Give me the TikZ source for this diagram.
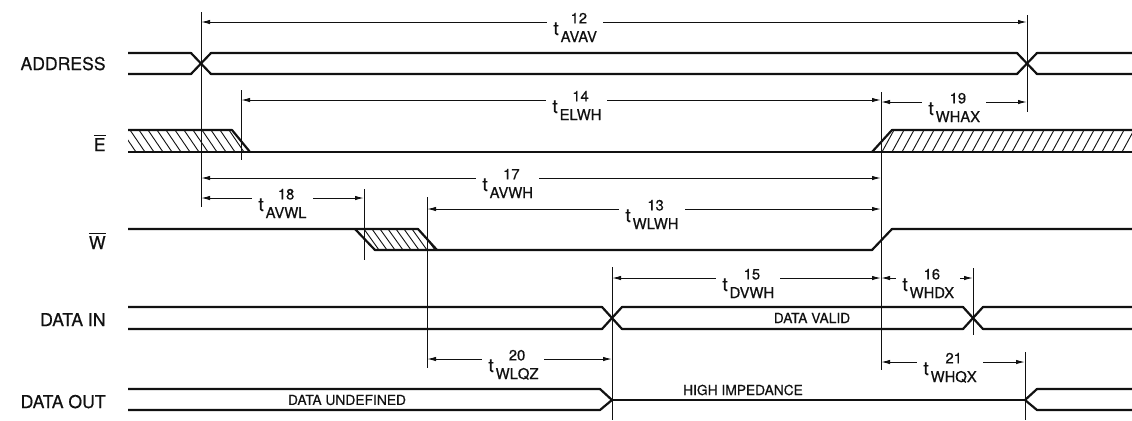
\documentclass[tikz,border=0pt]{standalone}
\usepackage{fontspec}
\setmainfont{TeX Gyre Heros}[FakeBold=0.5]
\usetikzlibrary{arrows.meta}
\definecolor{Ink}{HTML}{111111}
\tikzset{
  sig/.style={line width=1.1pt,draw=Ink,line join=round},
  guide/.style={line width=0.5pt,draw=Ink},
  dimarr/.style={{Latex[length=4.5pt,width=2.2pt]}-{Latex[length=4.5pt,width=2.2pt]},line width=0.5pt,draw=Ink},
  hatch/.style={line width=0.45pt,draw=Ink},
  siglbl/.style={anchor=base east,inner sep=0pt,font=\fontsize{8.8}{10}\selectfont,text=Ink},
  tlbl/.style={anchor=base west,fill=white,inner xsep=3pt,inner ysep=0pt,font=\fontsize{9.5}{10}\selectfont,text=Ink},
  note/.style={inner sep=0pt,font=\fontsize{6.9}{8}\selectfont,text=Ink}
}
\newcommand{\tlab}[2]{t\hspace{1pt}\raisebox{-3.5pt}{\fontsize{7.4}{9.3}\selectfont\begin{tabular}[b]{@{}c@{}}#1\\#2\end{tabular}}}

\begin{document}
\begin{tikzpicture}[x=0.5pt,y=-0.5pt]
  \useasboundingbox (0,0) rectangle (1132,420);
  % signal names
  \node[siglbl] (addr) at (106,70) {ADDRESS};
  \node[siglbl] (en) at (106,151) {$\overline{\mbox{E}}$};
  \node[siglbl] (wr) at (106,249) {$\overline{\mbox{W}}$};
  \node[siglbl] (din) at (106,326) {DATA IN};
  \node[siglbl] (dout) at (106,408) {DATA OUT};

  % hatched (don't care) regions
  \begin{scope}
    \clip (128,130) -- (232,130) -- (250,152) -- (128,152) -- cycle;
    \foreach \x in {112,121,...,256} \draw[hatch] (\x,130) -- ++(15,22);
  \end{scope}
  \begin{scope}
    \clip (872,152) -- (892,130) -- (1132,130) -- (1132,152) -- cycle;
    \foreach \x in {862,872,...,1140} \draw[hatch] (\x,152) -- ++(12,-22);
  \end{scope}
  \begin{scope}
    \clip (355,229) -- (418,229) -- (437,250) -- (375,250) -- cycle;
    \foreach \x in {340,348,...,440} \draw[hatch] (\x,229) -- ++(15,21);
  \end{scope}

  % waveforms
  \draw[sig] (128,53) -- (191,53) -- (211,74) -- (1017,74) -- (1037,53) -- (1132,53);
  \draw[sig] (128,74) -- (191,74) -- (211,53) -- (1017,53) -- (1037,74) -- (1132,74);
  \draw[sig] (128,130) -- (232,130) -- (250,152);
  \draw[sig] (128,152) -- (1132,152);
  \draw[sig] (872,152) -- (892,130) -- (1132,130);
  \draw[sig] (128,229) -- (418,229) -- (437,250);
  \draw[sig] (355,229) -- (375,250) -- (872,250) -- (892,229) -- (1132,229);
  \draw[sig] (128,307) -- (602,307) -- (622,329) -- (963,329) -- (983,307) -- (1132,307);
  \draw[sig] (128,329) -- (602,329) -- (622,307) -- (963,307) -- (983,329) -- (1132,329);
  \draw[sig] (128,389) -- (600,389) -- (612,400) -- (600,410) -- (128,410);
  \draw[sig] (612,400) -- (1025,400);
  \draw[sig] (1132,389) -- (1037,389) -- (1025,400) -- (1037,410) -- (1132,410);

  % reference edges
  \draw[guide] (201,12) -- (201,207);
  \draw[guide] (241,90) -- (241,160);
  \draw[guide] (1027,15) -- (1027,112);
  \draw[guide] (881,92) -- (881,370);
  \draw[guide] (364,189) -- (364,260);
  \draw[guide] (427,197) -- (427,368);
  \draw[guide] (612,267) -- (612,420);
  \draw[guide] (973,268) -- (973,335);
  \draw[guide] (1025,352) -- (1025,420);

  % timing intervals
  \coordinate (a12) at (201,22); \coordinate (b12) at (1027,22);
  \coordinate (a14) at (241,100); \coordinate (b14) at (881,100);
  \coordinate (a19) at (881,102); \coordinate (b19) at (1027,102);
  \coordinate (a17) at (201,178); \coordinate (b17) at (881,178);
  \coordinate (a18) at (201,198); \coordinate (b18) at (364,198);
  \coordinate (a13) at (427,209); \coordinate (b13) at (881,209);
  \coordinate (a15) at (612,278); \coordinate (b15) at (881,278);
  \coordinate (a16) at (881,278); \coordinate (b16) at (973,278);
  \coordinate (a20) at (427,359); \coordinate (b20) at (612,359);
  \coordinate (a21) at (881,362); \coordinate (b21) at (1025,362);
  \draw[dimarr] (a12) -- (b12); \draw[dimarr] (a14) -- (b14);
  \draw[dimarr] (a19) -- (b19); \draw[dimarr] (a17) -- (b17);
  \draw[dimarr] (a18) -- (b18); \draw[dimarr] (a13) -- (b13);
  \draw[dimarr] (a15) -- (b15); \draw[dimarr] (a16) -- (b16);
  \draw[dimarr] (a20) -- (b20); \draw[dimarr] (a21) -- (b21);

  \node[tlbl] (l12) at (547,35) {\tlab{12}{AVAV}};
  \node[tlbl] (l14) at (546,113) {\tlab{14}{ELWH}};
  \node[tlbl] (l19) at (922,115) {\tlab{19}{WHAX}};
  \node[tlbl] (l17) at (476,191) {\tlab{17}{AVWH}};
  \node[tlbl] (l18) at (252,211) {\tlab{18}{AVWL}};
  \node[tlbl] (l13) at (619,222) {\tlab{13}{WLWH}};
  \node[tlbl] (l15) at (716,291) {\tlab{15}{DVWH}};
  \node[tlbl] (l16) at (896,291) {\tlab{16}{WHDX}};
  \node[tlbl] (l20) at (482,372) {\tlab{20}{WLQZ}};
  \node[tlbl] (l21) at (917,375) {\tlab{21}{WHQX}};

  % bus contents
  \node[note] (valid) at (812,318) {DATA VALID};
  \node[note] (undef) at (347,400) {DATA UNDEFINED};
  \node[note] (hiz) at (743,390) {HIGH IMPEDANCE};
\end{tikzpicture}
\end{document}
